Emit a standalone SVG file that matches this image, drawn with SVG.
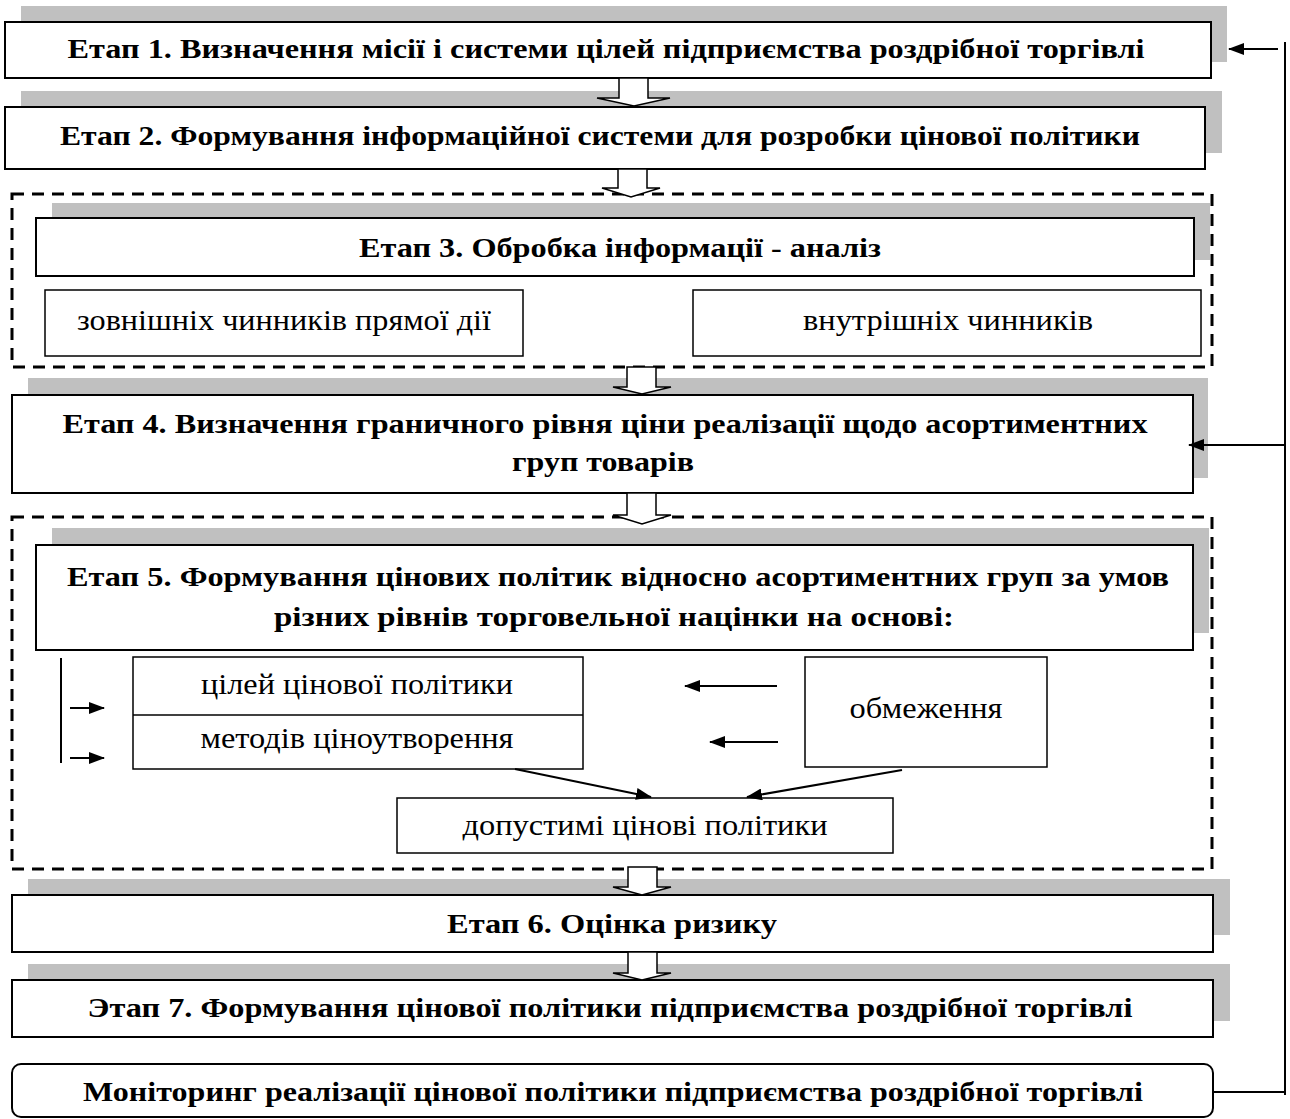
<svg xmlns="http://www.w3.org/2000/svg" width="1290" height="1119" viewBox="0 0 1290 1119">
<style>
.sh{fill:#c0c0c0;stroke:none}
.bx{fill:#fff;stroke:#000;stroke-width:2}
.sb{fill:#fff;stroke:#000;stroke-width:1.5}
.dash{fill:none;stroke:#000;stroke-width:3;stroke-dasharray:12 8}
.t{font-family:"Liberation Serif","Times New Roman",serif;font-size:27px;font-weight:bold;text-anchor:middle;fill:#000}
.r{font-family:"Liberation Serif","Times New Roman",serif;font-size:30px;text-anchor:middle;fill:#000}
.ln{fill:none;stroke:#000;stroke-width:2}
.ba{fill:#fff;stroke:#000;stroke-width:1.5}
</style>
<defs>
<marker id="ah" markerWidth="16" markerHeight="12" refX="15" refY="6" orient="auto" markerUnits="userSpaceOnUse">
<path d="M0,0 L16,6 L0,12 Z" fill="#000"/>
</marker>
</defs>
<rect width="1290" height="1119" fill="#fff"/>

<g id="stage1">
<rect class="sh" x="21" y="6" width="1206" height="56"/>
<rect class="bx" x="5" y="22" width="1206" height="56"/>
<text class="t" x="606" y="58" textLength="1077" lengthAdjust="spacingAndGlyphs">Етап 1.  Визначення місії і системи цілей підприємства роздрібної торгівлі</text>
</g>

<g id="stage2">
<rect class="sh" x="21" y="91" width="1201" height="62"/>
<rect class="bx" x="5" y="107" width="1200" height="62"/>
<text class="t" x="600" y="145" textLength="1080" lengthAdjust="spacingAndGlyphs">Етап 2. Формування інформаційної системи для розробки цінової політики</text>
</g>

<g id="stage3group">
<rect class="dash" x="12" y="194" width="1200" height="173"/>
<g id="stage3">
<rect class="sh" x="52" y="203" width="1158" height="57"/>
<rect class="bx" x="36" y="218" width="1158" height="58"/>
<text class="t" x="620" y="257" textLength="522" lengthAdjust="spacingAndGlyphs">Етап 3. Обробка інформації - аналіз</text>
</g>
<g id="ext">
<rect class="sb" x="45" y="290" width="478" height="66"/>
<text class="r" x="284" y="330" textLength="414" lengthAdjust="spacingAndGlyphs">зовнішніх чинників прямої дії</text>
</g>
<g id="int">
<rect class="sb" x="693" y="290" width="508" height="66"/>
<text class="r" x="948" y="330" textLength="290" lengthAdjust="spacingAndGlyphs">внутрішніх чинників</text>
</g>
</g>

<g id="stage4">
<rect class="sh" x="28" y="378" width="1180" height="100"/>
<rect class="bx" x="12" y="395" width="1181" height="98"/>
<text class="t" x="605" y="433" textLength="1085" lengthAdjust="spacingAndGlyphs">Етап 4. Визначення граничного рівня ціни реалізації щодо асортиментних</text>
<text class="t" x="603" y="471" textLength="182" lengthAdjust="spacingAndGlyphs">груп товарів</text>
</g>

<g id="stage5group">
<rect class="dash" x="12" y="517" width="1200" height="352"/>
<g id="stage5">
<rect class="sh" x="52" y="528" width="1157" height="105"/>
<rect class="bx" x="36" y="545" width="1157" height="105"/>
<text class="t" x="618" y="586" textLength="1102" lengthAdjust="spacingAndGlyphs">Етап 5. Формування цінових політик відносно асортиментних груп за умов</text>
<text class="t" x="614" y="626" textLength="680" lengthAdjust="spacingAndGlyphs">різних рівнів торговельної націнки на основі:</text>
</g>
<g id="goals">
<rect class="sb" x="133" y="657" width="450" height="112"/>
<line x1="133" y1="715" x2="583" y2="715" stroke="#000" stroke-width="1.5"/>
<text class="r" x="357" y="694" textLength="312" lengthAdjust="spacingAndGlyphs">цілей цінової політики</text>
<text class="r" x="357" y="748" textLength="313" lengthAdjust="spacingAndGlyphs">методів ціноутворення</text>
</g>
<g id="limits">
<rect class="sb" x="805" y="657" width="242" height="110"/>
<text class="r" x="926" y="718" textLength="153" lengthAdjust="spacingAndGlyphs">обмеження</text>
</g>
<g id="allowed">
<rect class="sb" x="397" y="798" width="496" height="55"/>
<text class="r" x="645" y="835" textLength="365" lengthAdjust="spacingAndGlyphs">допустимі цінові політики</text>
</g>
</g>

<g id="stage6">
<rect class="sh" x="28" y="879" width="1202" height="56"/>
<rect class="bx" x="12" y="895" width="1201" height="57"/>
<text class="t" x="612" y="933" textLength="330" lengthAdjust="spacingAndGlyphs">Етап 6. Оцінка ризику</text>
</g>

<g id="stage7">
<rect class="sh" x="28" y="964" width="1202" height="57"/>
<rect class="bx" x="12" y="980" width="1201" height="57"/>
<text class="t" x="610" y="1017" textLength="1045" lengthAdjust="spacingAndGlyphs">Этап 7. Формування цінової політики підприємства роздрібної торгівлі</text>
</g>

<g id="monitoring">
<rect class="bx" x="12" y="1064" width="1201" height="53" rx="9"/>
<text class="t" x="613" y="1101" style="font-size:28px" textLength="1060" lengthAdjust="spacingAndGlyphs">Моніторинг реалізації цінової політики підприємства роздрібної торгівлі</text>
</g>

<g id="connectors">
<path class="ba" d="M619,78 L648,78 L648,98 L670,98 L634,106 L597,98 L619,98 Z"/>
<path class="ba" d="M618,169 L647,169 L647,188 L660,188 L631,197 L602,188 L618,188 Z"/>
<path class="ba" d="M627,367 L656,367 L656,387 L671,387 L642,394 L613,387 L627,387 Z"/>
<path class="ba" d="M627,493 L656,493 L656,515 L671,515 L642,524 L613,515 L627,515 Z"/>
<path class="ba" d="M628,867 L657,867 L657,887 L671,887 L642,895 L613,887 L628,887 Z"/>
<path class="ba" d="M628,952 L657,952 L657,973 L671,973 L642,980 L613,973 L628,973 Z"/>

<line class="ln" x1="1285" y1="42" x2="1285" y2="1095"/>
<line class="ln" x1="1278" y1="49" x2="1229" y2="49" marker-end="url(#ah)"/>
<line class="ln" x1="1285" y1="445" x2="1189" y2="445" marker-end="url(#ah)"/>
<line class="ln" x1="1213" y1="1092" x2="1285" y2="1092"/>

<line class="ln" x1="61" y1="658" x2="61" y2="763"/>
<line class="ln" x1="70" y1="708" x2="104" y2="708" marker-end="url(#ah)"/>
<line class="ln" x1="70" y1="758" x2="104" y2="758" marker-end="url(#ah)"/>
<line class="ln" x1="777" y1="686" x2="685" y2="686" marker-end="url(#ah)"/>
<line class="ln" x1="778" y1="742" x2="710" y2="742" marker-end="url(#ah)"/>
<line class="ln" x1="515" y1="769" x2="651" y2="797" marker-end="url(#ah)"/>
<line class="ln" x1="902" y1="770" x2="747" y2="797" marker-end="url(#ah)"/>
</g>
</svg>
